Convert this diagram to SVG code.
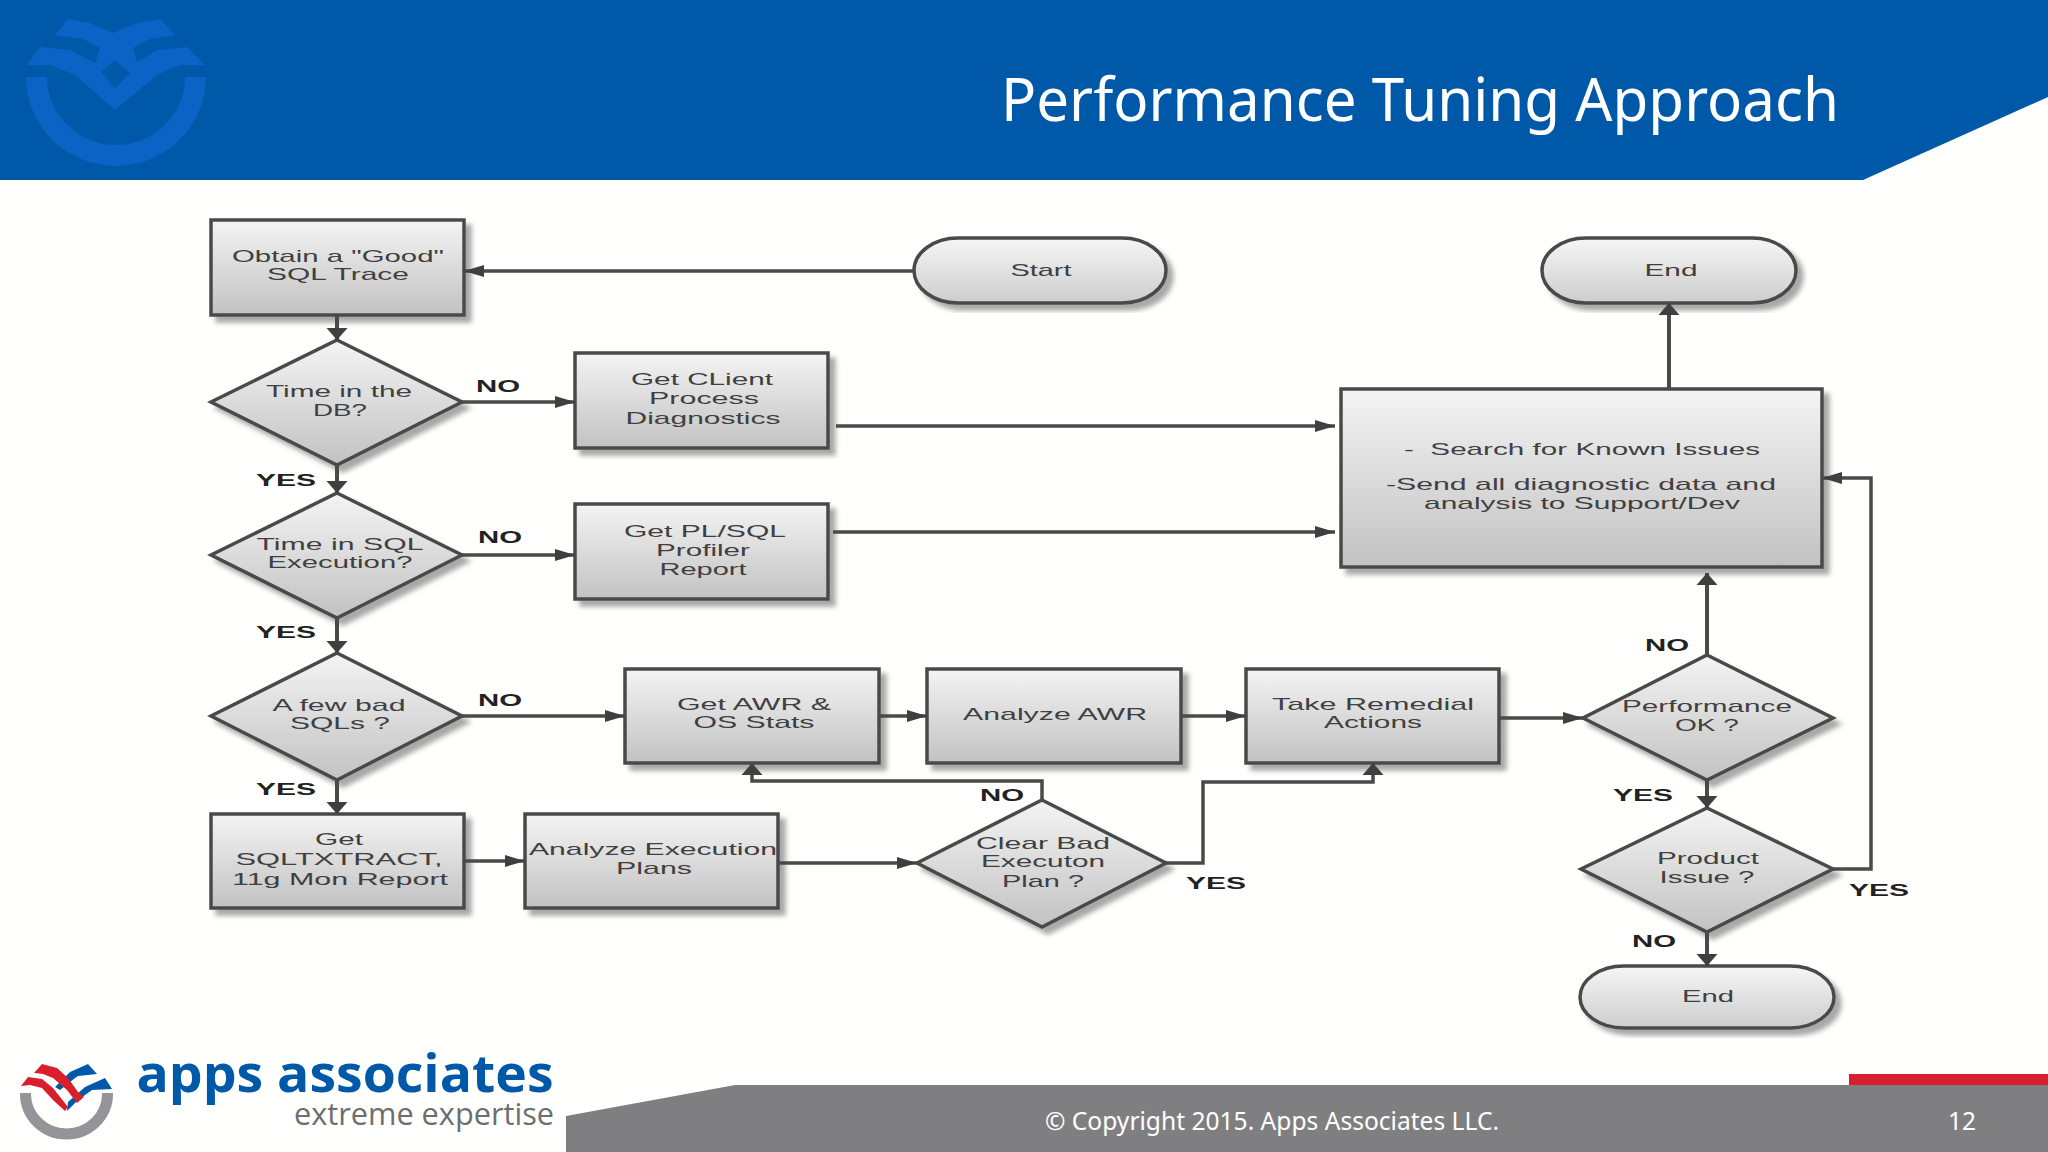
<svg xmlns="http://www.w3.org/2000/svg" width="2048" height="1152" viewBox="0 0 2048 1152">
<style>
.b{fill:url(#g);stroke:#4a4a4a;stroke-width:3.5;filter:url(#s)}
.d{fill:url(#g);stroke:#4a4a4a;stroke-width:3.5;stroke-linejoin:miter;filter:url(#s)}
.e{fill:url(#g2);stroke:#4a4a4a;stroke-width:3.5;filter:url(#s)}
.t{font-family:"Liberation Sans",Arial,sans-serif;font-size:17px;fill:#404040;text-anchor:middle}
.l{font-family:"Liberation Sans",Arial,sans-serif;font-size:16px;font-weight:bold;fill:#222;text-anchor:middle}
.h{fill:none;stroke:#4a4a4a;stroke-width:3.5;marker-end:url(#ah)}
.v{fill:none;stroke:#4a4a4a;stroke-width:4;marker-end:url(#av)}
</style>
<defs>
<linearGradient id="g" x1="0" y1="0" x2="0" y2="1"><stop offset="0" stop-color="#f4f4f4"/><stop offset="1" stop-color="#c2c2c2"/></linearGradient>
<linearGradient id="g2" x1="0" y1="0" x2="0" y2="1"><stop offset="0" stop-color="#f6f6f6"/><stop offset="1" stop-color="#cdcdcd"/></linearGradient>
<filter id="s" x="-10%" y="-10%" width="125%" height="125%"><feDropShadow dx="6" dy="6" stdDeviation="2.5" flood-color="#8a8a8a" flood-opacity="0.75"/></filter>
<marker id="ah" markerUnits="userSpaceOnUse" markerWidth="22" markerHeight="14" refX="20" refY="7" orient="auto"><path d="M0 1L20 7L0 13Z" fill="#3f3f3f"/></marker>
<marker id="av" markerUnits="userSpaceOnUse" markerWidth="14" markerHeight="22" refX="12" refY="11" orient="auto"><path d="M0 0.5L12 11L0 21.5Z" fill="#3f3f3f"/></marker>
</defs>
<rect width="2048" height="1152" fill="#fffffe"/>
<g id="header">
<polygon points="0,0 2048,0 2048,97 1863,180 0,180" fill="#0058a8"/>
<path d="M26 77A90 89 0 0 0 206 77H185A69 68 0 0 1 47 77Z" fill="#0a63c5"/>
<path fill-rule="evenodd" fill="#0a63c5" d="M55 35L68 19L90 23L113 33L137 23L160 19L175 35L150 39L133 48L137 62L157 50L187 47L205 65L180 65L157 75L115 110L75 75L50 65L27 65L40 47L70 50L95 63L100 48L83 39ZM115 60L130 73L115 88L101 72Z"/>
<text x="1420" y="121" font-family="Noto Sans,Open Sans,sans-serif" font-size="60" fill="#ffffff" text-anchor="middle" textLength="838" lengthAdjust="spacingAndGlyphs">Performance Tuning Approach</text>
</g>
<g id="footer">
<polygon points="566,1116 735,1085 2048,1085 2048,1152 566,1152" fill="#7f7f81"/>
<rect x="1849" y="1074" width="199" height="11" fill="#d8202c"/>
<text x="1272" y="1130" font-family="Noto Sans,Open Sans,sans-serif" font-size="25" fill="#ffffff" text-anchor="middle" textLength="454" lengthAdjust="spacingAndGlyphs">© Copyright 2015. Apps Associates LLC.</text>
<text x="1962" y="1130" font-family="Noto Sans,Open Sans,sans-serif" font-size="25" fill="#ffffff" text-anchor="middle" textLength="28" lengthAdjust="spacingAndGlyphs">12</text>
<path d="M25.500 1093V1094A41 40 0 0 0 107.500 1094V1093" fill="none" stroke="#939598" stroke-width="11"/>
<path d="M70 1072L88 1064L97 1074L78 1076L75 1078L60 1090L55 1087ZM85 1087L105 1078L112 1089L92 1090L78 1100L67 1111L68 1102Z" fill="#0058a8"/>
<path d="M34 1073L42 1064L57 1068L68 1078L78 1092L84 1097L77 1103L67 1090L53 1078L43 1074ZM21 1086L28 1077L42 1079L53 1088L68 1107L65 1111L53 1100L42 1088L30 1085Z" fill="#d8202c"/>
<text x="345" y="1092" font-family="Open Sans,Noto Sans,sans-serif" font-size="52" font-weight="700" fill="#0058a8" text-anchor="middle" textLength="417" lengthAdjust="spacingAndGlyphs">apps associates</text>
<text x="424" y="1125" font-family="Open Sans,Noto Sans,sans-serif" font-size="31" fill="#6d6e70" text-anchor="middle" textLength="260" lengthAdjust="spacingAndGlyphs">extreme expertise</text>
</g>
<g id="n-trace"><rect class="b" x="211" y="220" width="253" height="95"/>
<text class="t" x="338" y="262" textLength="212" lengthAdjust="spacingAndGlyphs">Obtain a "Good"</text>
<text class="t" x="338" y="280" textLength="142" lengthAdjust="spacingAndGlyphs">SQL Trace</text></g>
<g id="n-start"><rect class="e" x="914" y="238" width="252" height="65" rx="44" ry="32.500"/>
<text class="t" x="1041" y="276" textLength="61" lengthAdjust="spacingAndGlyphs">Start</text></g>
<g id="n-end1"><rect class="e" x="1542" y="238" width="254" height="65" rx="44" ry="32.500"/>
<text class="t" x="1671" y="276" textLength="53" lengthAdjust="spacingAndGlyphs">End</text></g>
<g id="n-db"><polygon class="d" points="337,340 462,402 337,465 211,402"/>
<text class="t" x="339" y="397" textLength="146" lengthAdjust="spacingAndGlyphs">Time in the</text>
<text class="t" x="340" y="416" textLength="54" lengthAdjust="spacingAndGlyphs">DB?</text></g>
<g id="n-client"><rect class="b" x="575" y="353" width="253" height="95"/>
<text class="t" x="702" y="385" textLength="142" lengthAdjust="spacingAndGlyphs">Get CLient</text>
<text class="t" x="704" y="404" textLength="110" lengthAdjust="spacingAndGlyphs">Process</text>
<text class="t" x="703" y="424" textLength="155" lengthAdjust="spacingAndGlyphs">Diagnostics</text></g>
<g id="n-sqlexec"><polygon class="d" points="337,493 462,555 337,618 211,555"/>
<text class="t" x="340" y="550" textLength="167" lengthAdjust="spacingAndGlyphs">Time in SQL</text>
<text class="t" x="340" y="568" textLength="145" lengthAdjust="spacingAndGlyphs">Execution?</text></g>
<g id="n-plsql"><rect class="b" x="575" y="504" width="253" height="95"/>
<text class="t" x="705" y="537" textLength="162" lengthAdjust="spacingAndGlyphs">Get PL/SQL</text>
<text class="t" x="703" y="556" textLength="94" lengthAdjust="spacingAndGlyphs">Profiler</text>
<text class="t" x="703" y="575" textLength="87" lengthAdjust="spacingAndGlyphs">Report</text></g>
<g id="n-search"><rect class="b" x="1341" y="389" width="481" height="178"/>
<text class="t" x="1582" y="455" textLength="356" lengthAdjust="spacingAndGlyphs" xml:space="preserve">-  Search for Known Issues</text>
<text class="t" x="1581" y="490" textLength="390" lengthAdjust="spacingAndGlyphs">-Send all diagnostic data and</text>
<text class="t" x="1582" y="509" textLength="316" lengthAdjust="spacingAndGlyphs">analysis to Support/Dev</text></g>
<g id="n-badsql"><polygon class="d" points="337,653 462,716 337,780 211,716"/>
<text class="t" x="339" y="711" textLength="133" lengthAdjust="spacingAndGlyphs">A few bad</text>
<text class="t" x="340" y="729" textLength="100" lengthAdjust="spacingAndGlyphs">SQLs ?</text></g>
<g id="n-awr"><rect class="b" x="625" y="669" width="254" height="94"/>
<text class="t" x="754" y="710" textLength="154" lengthAdjust="spacingAndGlyphs">Get AWR &amp;</text>
<text class="t" x="754" y="728" textLength="121" lengthAdjust="spacingAndGlyphs">OS Stats</text></g>
<g id="n-analyze"><rect class="b" x="927" y="669" width="254" height="94"/>
<text class="t" x="1055" y="720" textLength="184" lengthAdjust="spacingAndGlyphs">Analyze AWR</text></g>
<g id="n-remedial"><rect class="b" x="1246" y="669" width="253" height="94"/>
<text class="t" x="1373" y="710" textLength="202" lengthAdjust="spacingAndGlyphs">Take Remedial</text>
<text class="t" x="1373" y="728" textLength="98" lengthAdjust="spacingAndGlyphs">Actions</text></g>
<g id="n-perf"><polygon class="d" points="1707,655 1833,718 1707,780 1583,718"/>
<text class="t" x="1707" y="712" textLength="170" lengthAdjust="spacingAndGlyphs">Performance</text>
<text class="t" x="1707" y="731" textLength="64" lengthAdjust="spacingAndGlyphs">OK ?</text></g>
<g id="n-product"><polygon class="d" points="1707,808 1833,869 1707,932 1581,869"/>
<text class="t" x="1708" y="864" textLength="102" lengthAdjust="spacingAndGlyphs">Product</text>
<text class="t" x="1707" y="883" textLength="95" lengthAdjust="spacingAndGlyphs">Issue ?</text></g>
<g id="n-end2"><rect class="e" x="1580" y="966" width="254" height="62" rx="44" ry="31"/>
<text class="t" x="1708" y="1002" textLength="52" lengthAdjust="spacingAndGlyphs">End</text></g>
<g id="n-sqltxtract"><rect class="b" x="211" y="814" width="253" height="94"/>
<text class="t" x="339" y="845" textLength="48" lengthAdjust="spacingAndGlyphs">Get</text>
<text class="t" x="339" y="865" textLength="207" lengthAdjust="spacingAndGlyphs">SQLTXTRACT,</text>
<text class="t" x="340" y="885" textLength="216" lengthAdjust="spacingAndGlyphs">11g Mon Report</text></g>
<g id="n-plans"><rect class="b" x="525" y="814" width="253" height="94"/>
<text class="t" x="653" y="855" textLength="248" lengthAdjust="spacingAndGlyphs">Analyze Execution</text>
<text class="t" x="654" y="874" textLength="76" lengthAdjust="spacingAndGlyphs">Plans</text></g>
<g id="n-clear"><polygon class="d" points="1042,800 1166,863 1042,927 917,863"/>
<text class="t" x="1043" y="849" textLength="134" lengthAdjust="spacingAndGlyphs">Clear Bad</text>
<text class="t" x="1043" y="867" textLength="124" lengthAdjust="spacingAndGlyphs">Executon</text>
<text class="t" x="1043" y="887" textLength="82" lengthAdjust="spacingAndGlyphs">Plan ?</text></g>
<g id="connectors">
<path class="h" d="M914 271H464"/>
<path class="v" d="M337 315V340"/>
<path class="h" d="M462 402H575"/>
<path class="v" d="M337 465V493"/>
<path class="h" d="M462 555H575"/>
<path class="v" d="M337 618V653"/>
<path class="h" d="M462 716H625"/>
<path class="v" d="M337 780V814"/>
<path class="h" d="M836 426H1335"/>
<path class="h" d="M833 532H1335"/>
<path class="v" d="M1669 389V303"/>
<path class="h" d="M879 716H927"/>
<path class="h" d="M1181 716H1246"/>
<path class="h" d="M1499 718H1583"/>
<path class="v" d="M1707 655V573"/>
<path class="v" d="M1707 780V808"/>
<path class="v" d="M1707 932V966"/>
<path class="h" d="M1833 869H1871V478H1822"/>
<path class="h" d="M464 861H525"/>
<path class="h" d="M778 863H917"/>
<path class="v" style="stroke-width:3.5" d="M1042 800V781H752V763"/>
<path class="v" style="stroke-width:3.5" d="M1166 863H1203V782H1373V763"/>
<text class="l" x="498" y="392" textLength="44" lengthAdjust="spacingAndGlyphs">NO</text>
<text class="l" x="500" y="543" textLength="44" lengthAdjust="spacingAndGlyphs">NO</text>
<text class="l" x="500" y="706" textLength="44" lengthAdjust="spacingAndGlyphs">NO</text>
<text class="l" x="286" y="486" textLength="60" lengthAdjust="spacingAndGlyphs">YES</text>
<text class="l" x="286" y="638" textLength="60" lengthAdjust="spacingAndGlyphs">YES</text>
<text class="l" x="286" y="795" textLength="60" lengthAdjust="spacingAndGlyphs">YES</text>
<text class="l" x="1002" y="801" textLength="44" lengthAdjust="spacingAndGlyphs">NO</text>
<text class="l" x="1216" y="889" textLength="60" lengthAdjust="spacingAndGlyphs">YES</text>
<text class="l" x="1667" y="651" textLength="44" lengthAdjust="spacingAndGlyphs">NO</text>
<text class="l" x="1643" y="801" textLength="60" lengthAdjust="spacingAndGlyphs">YES</text>
<text class="l" x="1879" y="896" textLength="60" lengthAdjust="spacingAndGlyphs">YES</text>
<text class="l" x="1654" y="947" textLength="44" lengthAdjust="spacingAndGlyphs">NO</text>
</g>
</svg>
